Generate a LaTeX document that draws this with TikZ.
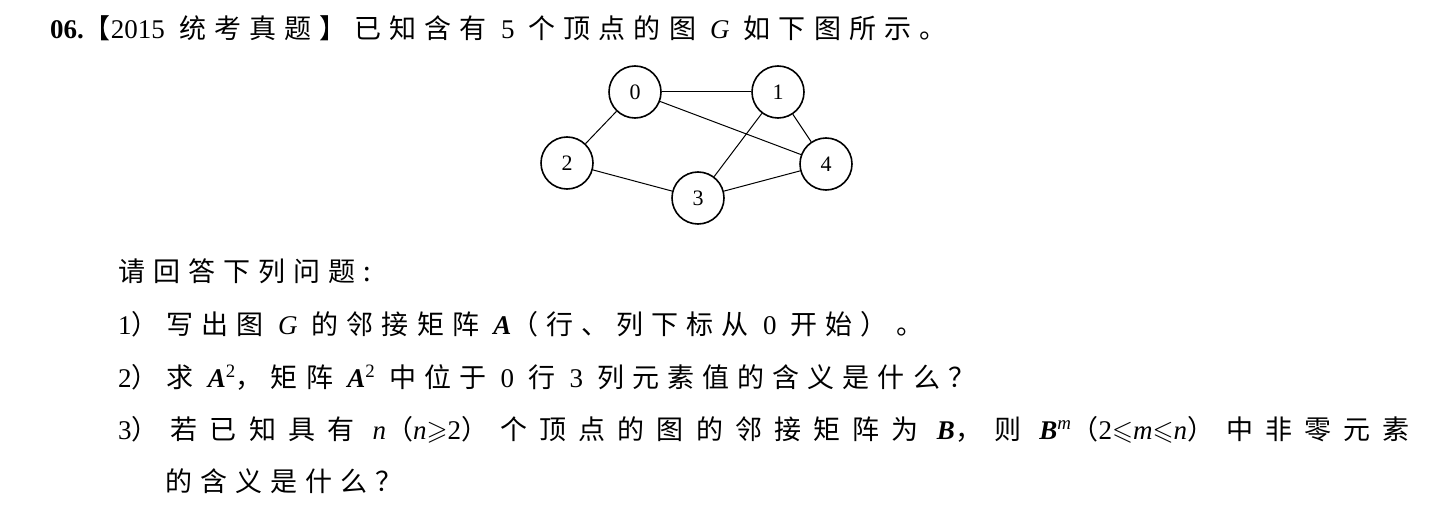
\documentclass[tikz,border=0pt]{standalone}
\usepackage{amssymb}
\usepackage{fontspec}
\setmainfont[LetterSpace=30]{Noto Sans CJK SC}
\newfontfamily\cjkwide[LetterSpace=45]{Noto Sans CJK SC}
\newfontfamily\lt{Liberation Serif}
\newcommand{\bi}[1]{{\lt\bfseries\itshape #1}}
\begin{document}
\begin{tikzpicture}[x=1pt,y=-1pt,
  v/.style={circle,draw,line width=1.6pt,minimum size=52pt,inner sep=0pt,font=\lt\fontsize{22}{24}\selectfont},
  e/.style={line width=1pt},
  t/.style={anchor=base west,inner sep=0pt,font=\fontsize{27}{30}\selectfont}]
\path[use as bounding box] (0,0) rectangle (1449,527);
\node[v] (n0) at (635,92) {0};
\node[v] (n1) at (778,92) {1};
\node[v] (n2) at (567,163) {2};
\node[v] (n4) at (826,164) {4};
\node[v] (n3) at (698,198) {3};
\draw[e] (n0)--(n1); \draw[e] (n0)--(n2); \draw[e] (n0)--(n4);
\draw[e] (n1)--(n4); \draw[e] (n1)--(n3); \draw[e] (n2)--(n3); \draw[e] (n3)--(n4);
\node[t] (l0) at (50,39) {{\lt\bfseries 06.}【{\lt 2015} 统考真题】已知含有 {\lt 5} 个顶点的图 {\lt\itshape G} 如下图所示。};
\node[t] (l1) at (118,281) {请回答下列问题:};
\node[t] (l2) at (118,334) {{\lt 1}）写出图 {\lt\itshape G} 的邻接矩阵 \bi{A}（行、列下标从 {\lt 0} 开始）。};
\node[t] (l3) at (118,387) {{\lt 2}）求 \bi{A}{\lt\textsuperscript{2}}，矩阵 \bi{A}{\lt\textsuperscript{2}} 中位于 {\lt 0} 行 {\lt 3} 列元素值的含义是什么？};
\node[t,font=\cjkwide\fontsize{27}{30}\selectfont] (l4) at (118,439) {{\lt 3}）若已知具有 {\lt\itshape n}（{\lt\itshape n}$\geqslant${\lt 2}）个顶点的图的邻接矩阵为 \bi{B}，则 \bi{B}{\lt\textsuperscript{\itshape m}}（{\lt 2}$\leqslant${\lt\itshape m}$\leqslant${\lt\itshape n}）中非零元素};
\node[t] (l5) at (165,491) {的含义是什么？};
\end{tikzpicture}
\end{document}
